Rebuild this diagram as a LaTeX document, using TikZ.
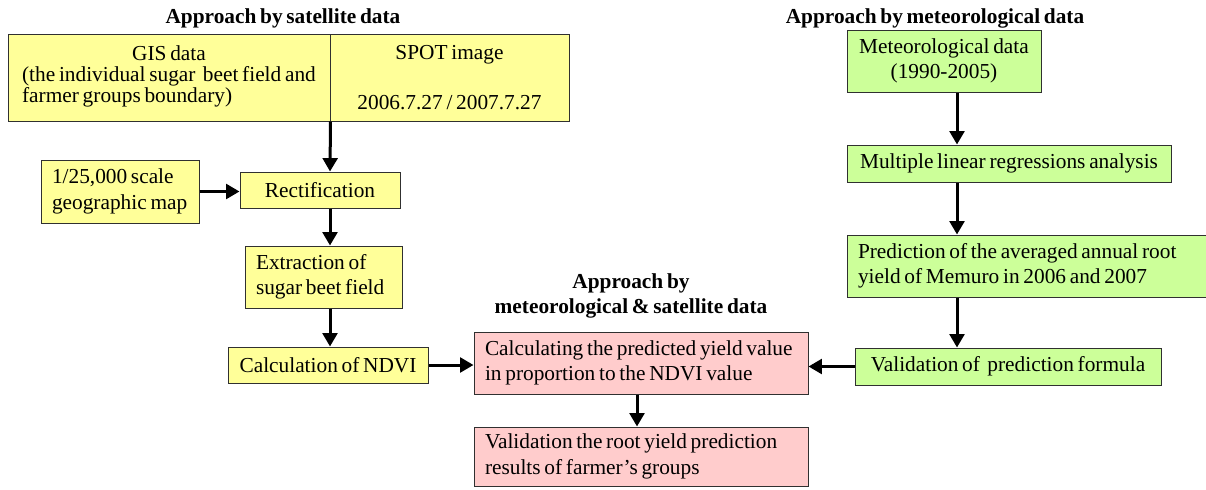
\documentclass[tikz,border=0pt]{standalone}
\usepackage{fontspec}
\setmainfont{Liberation Serif}[WordSpace=0.7]
\usetikzlibrary{arrows.meta,calc}
\definecolor{yel}{HTML}{FFFF99}
\definecolor{grn}{HTML}{CCFF99}
\definecolor{pnk}{HTML}{FFCCCC}
\definecolor{edgec}{HTML}{303030}
\newcommand\boxlines[1]{\spaceskip=0pt\xspaceskip=0pt\begin{tabular}{@{}l@{}}#1\end{tabular}}
\begin{document}
\begin{tikzpicture}[x=0.75pt,y=-0.75pt,
  box/.style 2 args={draw=edgec, line width=0.75pt, minimum width=#1*0.75pt,
    minimum height=#2*0.75pt, inner sep=0pt, font=\fontsize{16}{19}\selectfont,
    align=center, anchor=center},
  lbox/.style 2 args={box={#1}{#2}, inner xsep=8.25pt, text width={(#1-22)*0.75pt}, align=left},
  yelbox/.style={fill=yel}, grnbox/.style={fill=grn}, pnkbox/.style={fill=pnk},
  title/.style={font=\fontsize{16}{19}\selectfont\bfseries, align=center, inner sep=0pt},
  flow/.style={line width=2.25pt, -{Triangle[length=10pt,width=11pt]}}
]
\useasboundingbox (0,0) rectangle (1206,489);

% titles
\node[title] (t1) at (283,18) {Approach by satellite data};
\node[title] (t2) at (935,18) {Approach by meteorological data};
\node[title] (t3) at (631,296) {Approach by\\meteorological \& satellite data};

% satellite branch
\node[box={322}{87}, yelbox] (gis) at (169,77.5)
  {\fontsize{16}{15}\selectfont\begin{tabular}{@{}l@{}}\multicolumn{1}{@{}c@{}}{GIS data}\\(the individual sugar\ \ beet field and\\farmer groups boundary)\end{tabular}};
\node[box={239}{87}, yelbox] (spot) at (449.5,77.5) {SPOT image\\[18pt]2006.7.27 / 2007.7.27};
\node[box={160}{36}, yelbox] (rect) at (320,190) {Rectification};
\node[lbox={158}{63}, yelbox] (map) at (120,191.5) {\boxlines{1/25,000 scale\\geographic map}};
\node[lbox={157}{62}, yelbox] (extr) at (323.5,277) {\boxlines{Extraction of\\sugar beet field}};
\node[box={200}{36}, yelbox] (ndvi) at (328,365) {Calculation of NDVI};

% combined
\node[lbox={334}{62}, pnkbox] (calc) at (641,363) {\boxlines{Calculating the predicted yield value\\in proportion to the NDVI value}};
\node[lbox={334}{59}, pnkbox] (valid) at (641,456.5) {\boxlines{Validation the root yield prediction\\results of farmer’s groups}};

% meteorological branch
\node[box={194}{62}, grnbox] (met) at (944,61) {Meteorological data\\(1990-2005)};
\node[box={324}{37}, grnbox] (mlr) at (1009,163.5) {Multiple linear regressions analysis};
\node[lbox={361}{62}, grnbox] (pred) at (1027.5,266) {\boxlines{Prediction of the averaged annual root\\yield of Memuro in 2006 and 2007}};
\node[box={306}{37}, grnbox] (vform) at (1008,366.5) {Validation of\ \ prediction formula};

\coordinate (lcol) at (330,0);
\coordinate (rcol) at (957,0);
\coordinate (mcol) at (637,0);

% connectors
\draw[flow] (gis.south east) -- (rect.north -| lcol);
\draw[flow] (map.east) -- (map.east -| rect.west);
\draw[flow] (rect.south -| lcol) -- (extr.north -| lcol);
\draw[flow] (extr.south -| lcol) -- (ndvi.north -| lcol);
\draw[flow] (ndvi.east) -- (ndvi.east -| calc.west);
\draw[flow] (calc.south -| mcol) -- (valid.north -| mcol);
\draw[flow] (met.south -| rcol) -- (mlr.north -| rcol);
\draw[flow] (mlr.south -| rcol) -- (pred.north -| rcol);
\draw[flow] (pred.south -| rcol) -- (vform.north -| rcol);
\draw[flow] (vform.west) -- (vform.west -| calc.east);
\end{tikzpicture}
\end{document}
